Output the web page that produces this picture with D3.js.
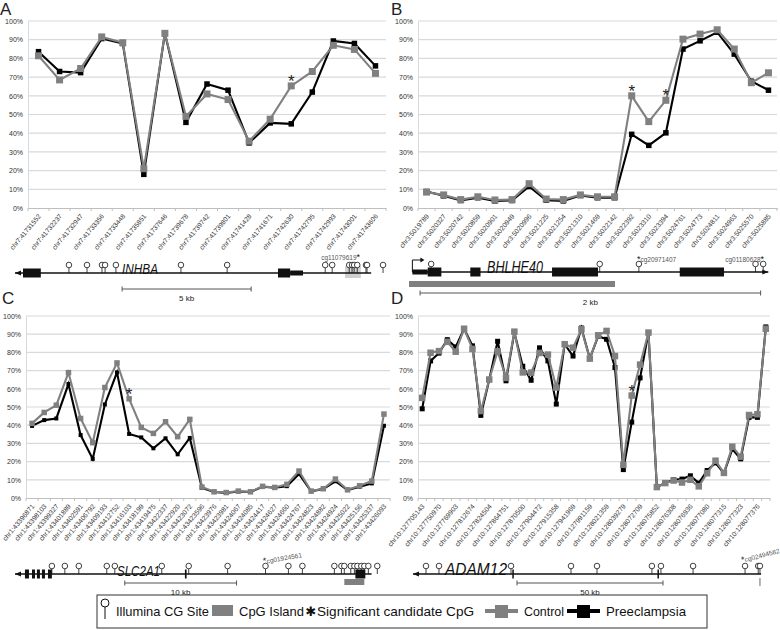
<!DOCTYPE html>
<html>
<head>
<meta charset="utf-8">
<script src="https://cdnjs.cloudflare.com/ajax/libs/d3/7.8.5/d3.min.js"></script>
<style>
  body { margin: 0; background: #fff; }
  svg text { font-family: "Liberation Sans", Arial, sans-serif; }
  svg text.narrow { font-family: "Liberation Sans Narrow", "Arial Narrow", "Liberation Sans", sans-serif; }
</style>
</head>
<body>
<svg id="fig" width="780" height="630"></svg>
<script>
// ---------------- data ----------------
const yTicks = [0, 10, 20, 30, 40, 50, 60, 70, 80, 90, 100];

// A - INHBA
const catsA = ["chr7:41731552", "chr7:41732237", "chr7:41732947", "chr7:41733356", "chr7:41733448", "chr7:41735851",
  "chr7:41737646", "chr7:41739678", "chr7:41739742", "chr7:41739801", "chr7:41741428", "chr7:41741671",
  "chr7:41742630", "chr7:41742795", "chr7:41742993", "chr7:41743001", "chr7:41743606"];
const controlA = [81.4, 68.5, 74.6, 91.5, 88.4, 21, 93.4, 49, 61, 58, 35.7, 47.5, 65.3, 73, 87, 84.8, 72];
const preA = [83.6, 73, 72.4, 90.6, 88, 18, 93.4, 45.8, 66.3, 63, 34.8, 45.5, 45, 62, 89.3, 88, 76];
const sigA = [12];

// B - BHLHE40
const catsB = ["chr3:5019789", "chr3:5020327", "chr3:5020742", "chr3:5020859", "chr3:5020901", "chr3:5020949",
  "chr3:5020996", "chr3:5021225", "chr3:5021254", "chr3:5021310", "chr3:5021469", "chr3:5022142", "chr3:5022392",
  "chr3:5023310", "chr3:5023394", "chr3:5024761", "chr3:5024773", "chr3:5024811", "chr3:5024963", "chr3:5025570",
  "chr3:5025885"];
const controlB = [8.5, 7, 4.5, 6, 4.3, 4.5, 13, 4.8, 4.5, 7, 6, 6, 60, 46.2, 57.6, 90.3, 93, 95.3, 85, 67, 72.3];
const preB = [8.8, 6.5, 4, 5.5, 3.8, 4, 11.5, 4.2, 3.8, 6.7, 5.5, 5.5, 39.4, 33.5, 40.2, 85, 89.4, 94, 82.3, 67.8, 63];
const sigB = [12, 14];

// C - SLC2A1
const catsC = ["chr1:43396871", "chr1:43398103", "chr1:43399327", "chr1:43401889", "chr1:43402591", "chr1:43406792",
  "chr1:43409193", "chr1:43412752", "chr1:43416103", "chr1:43418199", "chr1:43419475", "chr1:43422337",
  "chr1:43422920", "chr1:43423072", "chr1:43423596", "chr1:43423976", "chr1:43423981", "chr1:43424067",
  "chr1:43424085", "chr1:43424417", "chr1:43424627", "chr1:43424660", "chr1:43424767", "chr1:43424823",
  "chr1:43424882", "chr1:43424924", "chr1:43425022", "chr1:43425156", "chr1:43425337", "chr1:43426093"];
const controlC = [41, 47, 51, 68.9, 43.7, 30.4, 60.7, 74.2, 54.5, 38.8, 35.5, 41.9, 33.7, 43.2,
  6, 3.4, 3, 3.8, 3.4, 6.4, 5.8, 7.5, 14.8, 3.8, 5.1, 10.4, 4.5, 6.7, 9.3, 46.1];
const preC = [39.6, 42.8, 43.7, 62.6, 34.6, 21.5, 51.4, 69, 35.2, 33.3, 27.3, 32.8, 24, 33,
  5.5, 3.3, 2.8, 3.6, 3.3, 6.2, 5.6, 6.5, 13.2, 3.7, 5, 9.2, 4.4, 6.2, 8, 39.7];
const sigC = [8];

// D - ADAM12 (42 sites, every other one labelled)
const catsD = ["chr10:127705143", "chr10:127705170", "chr10:127750970", "chr10:127751020", "chr10:127769903",
  "chr10:127769990", "chr10:127812674", "chr10:127812700", "chr10:127824504", "chr10:127824560", "chr10:127864751",
  "chr10:127864800", "chr10:127870500", "chr10:127870560", "chr10:127904472", "chr10:127904520", "chr10:127915358",
  "chr10:127915400", "chr10:127941969", "chr10:127942010", "chr10:127991159", "chr10:127991200", "chr10:128021359",
  "chr10:128021400", "chr10:128039279", "chr10:128039320", "chr10:128072709", "chr10:128072750", "chr10:128075852",
  "chr10:128075900", "chr10:128076308", "chr10:128076350", "chr10:128076936", "chr10:128076980", "chr10:128077080",
  "chr10:128077100", "chr10:128077315", "chr10:128077320", "chr10:128077323", "chr10:128077350", "chr10:128077376",
  "chr10:128077390"];
const controlD = [55, 79.8, 80.7, 85.8, 80.4, 93, 81.9, 47.8, 65.1, 80.6, 66, 91.4, 69, 68.9, 79.7, 78.8, 60.7,
  84.5, 82.6, 92.7, 76.6, 89.4, 91.8, 78, 18.2, 56.3, 73.3, 90.9,
  6, 8.2, 9.6, 8.5, 10, 6.4, 13.6, 20.5, 13.8, 28.2, 22.7, 45.6, 46, 93];
const preD = [49, 75.3, 79.6, 87, 83, 93, 83.6, 45.4, 65, 86.1, 64.4, 91, 72.4, 64.7, 82.5, 75.3, 51.6,
  84.5, 78, 93.4, 76.6, 88.9, 87.2, 71.7, 15.6, 41.7, 66, 90.9,
  6, 8.2, 10, 10.4, 12.2, 8.2, 15.1, 19.3, 13.6, 26.9, 21.5, 44.3, 44.3, 94];
const sigD = [25];

// gene models, positions in kb from left end of drawn region
const lolliA = [2.09, 2.79, 3.37, 3.49, 3.91, 6.43, 8.22, 12.02, 12.29, 12.95, 13.06, 13.14, 13.26, 13.6, 13.64, 14.26];
const exonA = [[0.31, 1.0], [10.19, 10.66]];
const utrA = [[10.66, 11.16]];

const lolliB = [0.13, 1.12, 1.35, 2.035, 2.08];
const exonB = [[0.11, 0.19], [0.36, 0.42], [0.84, 1.11], [1.59, 1.85]];
const utrB = [[0.02, 0.11]];

const lolliC = [3.3, 4.46, 5.71, 8.21, 8.93, 13.13, 15.54, 19.02, 22.41, 24.46, 25.71, 28.57, 29.2, 29.46, 30.04,
  30.36, 30.63, 30.98, 31.25, 31.61, 32.41];
const exonC = [[0.89, 1.25], [1.52, 1.79], [1.96, 2.23], [2.41, 2.68], [2.95, 3.3], [15.2, 15.35], [30.45, 31.34]];

const lolliD = [4.45, 8.9, 33.56, 54.1, 63.0, 81.8, 84.9, 95.9, 113.7, 118.2, 118.8];
const exonD = [[34.0, 34.4], [83.7, 84.1]];

const GRAY = "#808080";
const svg = d3.select("#fig");

// ---------------- line chart panel ----------------
function drawPanel(p) {
  const g = svg.append("g");
  const x = d3.scaleBand().domain(p.cats).range([p.x0, p.x1]);
  const y = d3.scaleLinear().domain([0, 100]).range([p.y0, p.y1]);
  const cx = d => x(d) + x.bandwidth() / 2;

  g.selectAll(".grid").data(yTicks.slice(1)).enter().append("line")
    .attr("x1", p.x0).attr("x2", p.x1)
    .attr("y1", d => y(d)).attr("y2", d => y(d))
    .attr("stroke", "#d9d9d9").attr("stroke-width", 1.2);

  const yAxis = d3.axisLeft(y).tickValues(yTicks).tickFormat(d => d + "%").tickSize(0).tickSizeOuter(0).tickPadding(5);
  const ay = g.append("g").attr("transform", `translate(${p.x0},0)`).call(yAxis);
  ay.select(".domain").attr("stroke", "#d9d9d9");
  ay.selectAll("text").attr("font-size", 7).attr("fill", "#333");

  const xAxis = d3.axisBottom(x).tickSize(0).tickSizeOuter(0)
    .tickValues(p.cats.filter((d, i) => i % p.step === 0));
  const ax = g.append("g").attr("transform", `translate(0,${p.y0})`).call(xAxis);
  ax.select(".domain").attr("stroke", "#bfbfbf").attr("stroke-width", 1.2);
  ax.selectAll("text")
    .attr("font-size", p.labelSize).attr("fill", "#333")
    .attr("text-anchor", "end").attr("y", 0).attr("dy", "0.35em")
    .attr("transform", "translate(1,7) rotate(-50)");

  // category boundary ticks
  g.selectAll(".tk").data(d3.range(p.cats.length + 1)).enter().append("line")
    .attr("x1", i => p.x0 + i * x.bandwidth()).attr("x2", i => p.x0 + i * x.bandwidth())
    .attr("y1", p.y0).attr("y2", p.y0 + 3)
    .attr("stroke", "#bfbfbf");

  const series = [
    { vals: p.pre, color: "#000", size: p.mk - 1.5 },
    { vals: p.control, color: GRAY, size: p.mk }
  ];
  series.forEach(s => {
    const line = d3.line().x((d, i) => cx(p.cats[i])).y(d => y(d));
    g.append("path").datum(s.vals).attr("d", line)
      .attr("fill", "none").attr("stroke", s.color).attr("stroke-width", 2.1);
    g.selectAll(null).data(s.vals).enter().append("rect")
      .attr("x", (d, i) => cx(p.cats[i]) - s.size / 2)
      .attr("y", d => y(d) - s.size / 2)
      .attr("width", s.size).attr("height", s.size)
      .attr("fill", s.color);
  });

  g.selectAll(".star").data(p.sig).enter().append("text")
    .attr("x", i => cx(p.cats[i])).attr("y", i => y(p.control[i]) + 1)
    .attr("text-anchor", "middle").attr("font-size", 17).attr("fill", "#222")
    .text("*");

  svg.append("text").attr("x", p.lx).attr("y", p.ly)
    .attr("font-size", 17).attr("fill", "#222").text(p.letter);
}

// ---------------- gene model ----------------
function drawGene(gm) {
  const g = svg.append("g");
  const s = d3.scaleLinear().domain(gm.domain).range(gm.range);
  const ly = gm.lineY;

  // CpG island
  (gm.island || []).forEach(r => {
    g.append("rect").attr("x", s(r[0])).attr("width", s(r[1]) - s(r[0]))
      .attr("y", gm.islandY).attr("height", gm.islandH).attr("fill", gm.islandColor || GRAY);
  });

  g.append("line").attr("x1", s(gm.line[0])).attr("x2", s(gm.line[1]))
    .attr("y1", ly).attr("y2", ly).attr("stroke", "#111").attr("stroke-width", 1.3);

  // strand arrow
  const ax = gm.dir < 0 ? s(gm.line[0]) : s(gm.line[1]);
  g.append("path")
    .attr("d", `M${ax},${ly} l${-gm.dir * 6},-2.5 l0,5 z`)
    .attr("fill", "#111");

  // transcription start (bent arrow)
  if (gm.tss !== undefined) {
    const tx = s(gm.tss);
    g.append("path").attr("d", `M${tx},${ly} V${ly - 12} H${tx + 9}`)
      .attr("fill", "none").attr("stroke", "#111").attr("stroke-width", 1);
    g.append("path").attr("d", `M${tx + 12},${ly - 12} l-4,-2.5 l0,5 z`).attr("fill", "#111");
  }

  g.selectAll(null).data(gm.utr || []).enter().append("rect")
    .attr("x", d => s(d[0])).attr("width", d => s(d[1]) - s(d[0]))
    .attr("y", ly - 2.5).attr("height", 5).attr("fill", "#111");
  g.selectAll(null).data(gm.exons).enter().append("rect")
    .attr("x", d => s(d[0])).attr("width", d => Math.max(1.5, s(d[1]) - s(d[0])))
    .attr("y", ly - 4.5).attr("height", 9).attr("fill", "#111");

  const lol = g.selectAll(null).data(gm.lolli).enter().append("g");
  lol.append("line").attr("x1", d => s(d)).attr("x2", d => s(d))
    .attr("y1", ly).attr("y2", ly - 5.5).attr("stroke", "#111").attr("stroke-width", 0.8);
  lol.append("circle").attr("cx", d => s(d)).attr("cy", ly - 8).attr("r", 2.8)
    .attr("fill", "#fff").attr("stroke", "#111").attr("stroke-width", 0.8);

  g.append("text").attr("class", "narrow").attr("x", gm.nameX).attr("y", ly + gm.nameDy)
    .attr("font-size", gm.nameSize).attr("font-style", "italic").attr("fill", "#111")
    .attr("textLength", gm.nameW).attr("lengthAdjust", "spacingAndGlyphs")
    .text(gm.name);

  (gm.cg || []).forEach(c => {
    const t = g.append("text").attr("font-size", 6.5).attr("fill", "#555")
      .attr("transform", `translate(${s(c.pos) + c.dx},${ly + c.dy}) rotate(${c.rot || 0})`);
    t.append("tspan").attr("font-size", 9).attr("fill", "#111").text(c.starFirst ? "*" : "");
    t.append("tspan").text(c.id);
    t.append("tspan").attr("font-size", 9).attr("fill", "#111").text(c.starFirst ? "" : "*");
  });

  // scale bar
  const sb = gm.bar;
  g.append("line").attr("x1", s(sb[0])).attr("x2", s(sb[1])).attr("y1", gm.barY).attr("y2", gm.barY)
    .attr("stroke", "#555").attr("stroke-width", 1);
  [sb[0], sb[1]].forEach(v => g.append("line").attr("x1", s(v)).attr("x2", s(v))
    .attr("y1", gm.barY - 2.5).attr("y2", gm.barY + 2.5).attr("stroke", "#555"));
  g.append("text").attr("class", "narrow").attr("x", (s(sb[0]) + s(sb[1])) / 2).attr("y", gm.barY + 12)
    .attr("text-anchor", "middle").attr("font-size", 8).attr("fill", "#222").text(gm.barLabel);
}

drawPanel({ letter: "A", lx: 0, ly: 15, cats: catsA, control: controlA, pre: preA, sig: sigA,
  x0: 28, x1: 386, y0: 208, y1: 21, step: 1, labelSize: 6.6, mk: 7 });
drawPanel({ letter: "B", lx: 391, ly: 15, cats: catsB, control: controlB, pre: preB, sig: sigB,
  x0: 418, x1: 777, y0: 208, y1: 21, step: 1, labelSize: 6.8, mk: 7 });
drawPanel({ letter: "C", lx: 2, ly: 304, cats: catsC, control: controlC, pre: preC, sig: sigC,
  x0: 26, x1: 390, y0: 498, y1: 316, step: 1, labelSize: 6.8, mk: 5.5 });
drawPanel({ letter: "D", lx: 391, ly: 304, cats: catsD, control: controlD, pre: preD, sig: sigD,
  x0: 418, x1: 770, y0: 498, y1: 316, step: 2, labelSize: 6.8, mk: 6.5 });

drawGene({ name: "INHBA", nameX: 122, nameSize: 15, nameW: 36, nameDy: 1,
  domain: [0, 14.53], range: [15, 390], line: [0, 13.8], dir: -1,
  lineY: 273, lolli: lolliA, exons: exonA, utr: utrA,
  island: [[12.79, 13.4]], islandY: 266, islandH: 12, islandColor: "#cfcfcf",
  cg: [{ id: "cg11079619", pos: 13.26, dx: -36, dy: -13, starFirst: false }],
  bar: [4.15, 9.15], barY: 289, barLabel: "5 kb" });
drawGene({ name: "BHLHE40", nameX: 487, nameSize: 17, nameW: 56, nameDy: 1,
  domain: [0, 2.12], range: [409, 770], line: [0.02, 2.11], dir: 1, tss: 0.02,
  lineY: 272, lolli: lolliB, exons: exonB, utr: utrB,
  island: [[0, 1.21]], islandY: 281, islandH: 6,
  cg: [{ id: "cg20971407", pos: 1.35, dx: -2, dy: -10, starFirst: true },
       { id: "cg01180628", pos: 2.08, dx: -38, dy: -10, starFirst: false }],
  bar: [0.065, 2.065], barY: 293, barLabel: "2 kb" });
drawGene({ name: "SLC2A1", nameX: 117, nameSize: 15, nameW: 43, nameDy: 2,
  domain: [0, 33.1], range: [15, 385], line: [0, 31.9], dir: -1,
  lineY: 574, lolli: lolliC, exons: exonC,
  island: [[29.46, 31.25]], islandY: 579, islandH: 6,
  cg: [{ id: "cg01924561", pos: 22.41, dx: -2, dy: -10, rot: -10, starFirst: true }],
  bar: [9.82, 19.82], barY: 583, barLabel: "10 kb" });
drawGene({ name: "ADAM12", nameX: 445, nameSize: 17, nameW: 62, nameDy: 1,
  domain: [0, 119.5], range: [413, 762], line: [0, 119.2], dir: -1,
  lineY: 574, lolli: lolliD, exons: exonD,
  island: [[118.6, 119.0]], islandY: 578, islandH: 8,
  cg: [{ id: "cg02494582", pos: 118.8, dx: -18, dy: -11, rot: -15, starFirst: true }],
  bar: [35.6, 85.6], barY: 583, barLabel: "50 kb" });

// ---------------- legend ----------------
const lg = svg.append("g");
lg.append("rect").attr("x", 97).attr("y", 595).attr("width", 610).attr("height", 33)
  .attr("fill", "#fff").attr("stroke", "#333").attr("stroke-width", 1);
lg.append("line").attr("x1", 105).attr("x2", 105).attr("y1", 607).attr("y2", 619).attr("stroke", "#111");
lg.append("circle").attr("cx", 105).attr("cy", 603).attr("r", 4).attr("fill", "#fff").attr("stroke", "#111");
lg.append("rect").attr("x", 212).attr("y", 605).attr("width", 21).attr("height", 11).attr("fill", GRAY);
lg.append("text").attr("x", 311).attr("y", 616).attr("text-anchor", "middle").attr("font-size", 13)
  .style("font-family", "DejaVu Sans").attr("fill", "#111").text("\u2731");
[[485, GRAY], [567, "#000"]].forEach(d => {
  lg.append("line").attr("x1", d[0]).attr("x2", d[0] + 33).attr("y1", 611).attr("y2", 611)
    .attr("stroke", d[1]).attr("stroke-width", 4);
  lg.append("rect").attr("x", d[0] + 10).attr("y", 605).attr("width", 13).attr("height", 13).attr("fill", d[1]);
});
const legendText = [[116, "Illumina CG Site", 93], [239, "CpG Island", 65], [317, "Significant candidate CpG", 157],
  [524, "Control", 40], [606, "Preeclampsia", 80]];
lg.selectAll(null).data(legendText).enter().append("text").attr("class", "narrow")
  .attr("x", d => d[0]).attr("y", 616).attr("font-size", 13.5).attr("fill", "#111")
  .attr("textLength", d => d[2]).attr("lengthAdjust", "spacingAndGlyphs")
  .text(d => d[1]);
</script>
</body>
</html>
